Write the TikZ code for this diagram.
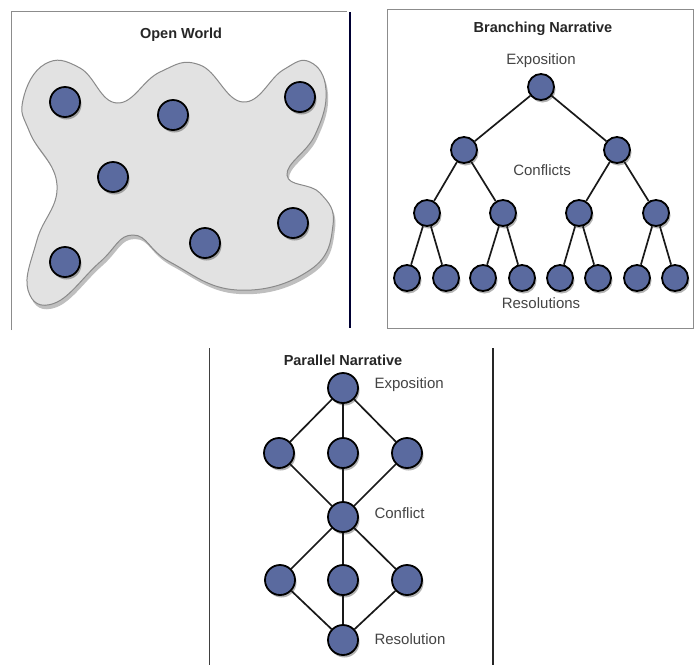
\documentclass[tikz,border=0pt]{standalone}
\usepackage{fontspec}
\setmainfont{Liberation Sans}
\usetikzlibrary{shadows}
\definecolor{dotblue}{HTML}{5A6A9F}
\definecolor{blobfill}{HTML}{E2E2E2}
\definecolor{blobline}{HTML}{8A8A8A}
\definecolor{labelgray}{HTML}{444444}
\definecolor{framegray}{HTML}{8C8C8C}
\begin{document}
\begin{tikzpicture}[x=1pt,y=-1pt,
  dotbase/.style={circle, draw=black, line width=1.8pt, fill=dotblue, inner sep=0pt,
    drop shadow={shadow xshift=1.5pt, shadow yshift=-2.5pt, opacity=0.3, fill=black}},
  owdot/.style={dotbase, minimum size=30pt},
  brdot/.style={dotbase, minimum size=26pt},
  padot/.style={dotbase, minimum size=30pt},
  link/.style={line width=1.7pt, draw=black!90},
  paneltitle/.style={font=\bfseries\fontsize{14.5}{16}\selectfont, text=black!85},
  lbl/.style={font=\fontsize{15}{17}\selectfont, text=labelgray}
]
\useasboundingbox (0,0) rectangle (695,665);
\fill[white] (0,0) rectangle (695,665);

% ---------- Panel 1: Open World ----------
\draw[framegray, line width=0.8pt] (11,330) -- (11,11) -- (347,11);
\draw[line width=2.6pt, color=black!80!blue] (350,12) -- (350,328);
\node[paneltitle] (owtitle) at (181,35) {Open World};
\path[fill=blobfill, draw=blobline, line width=1pt,
  drop shadow={shadow xshift=2pt, shadow yshift=-4pt, opacity=0.25, fill=black}]
  plot[smooth cycle, tension=0.75] coordinates {
   (23,100) (45,64) (80,68) (117,103) (160,72) (200,65) (243,102)
   (283,70) (310,62) (326,90) (315,135) (287,175) (320,193) (333,225)
   (310,270) (237,290) (170,262) (133,235) (100,262) (55,303) (28,290)
   (37,240) (57,185) (30,133)};
\node[owdot] (ow1) at (65,102) {};
\node[owdot] (ow2) at (173,115) {};
\node[owdot] (ow3) at (300,97) {};
\node[owdot] (ow4) at (113,177) {};
\node[owdot] (ow5) at (293,223) {};
\node[owdot] (ow6) at (205,243) {};
\node[owdot] (ow7) at (65,262) {};

% ---------- Panel 2: Branching Narrative ----------
\draw[framegray, line width=0.8pt] (387,9) rectangle (693,328);
\node[paneltitle] (brtitle) at (543,29) {Branching Narrative};
\node[lbl] (brexp) at (541,61) {Exposition};
\node[lbl] (brcon) at (542,170) {Conflicts};
\node[lbl] (brres) at (541,303) {Resolutions};

\node[brdot] (b0) at (541,87) {};
\node[brdot] (b1) at (464,150) {};
\node[brdot] (b2) at (617,150) {};
\node[brdot] (b11) at (427,213) {};
\node[brdot] (b12) at (503,213) {};
\node[brdot] (b21) at (579,213) {};
\node[brdot] (b22) at (656,213) {};
\node[brdot] (r1) at (407,278) {};
\node[brdot] (r2) at (446,278) {};
\node[brdot] (r3) at (483,278) {};
\node[brdot] (r4) at (522,278) {};
\node[brdot] (r5) at (560,278) {};
\node[brdot] (r6) at (598,278) {};
\node[brdot] (r7) at (637,278) {};
\node[brdot] (r8) at (675,278) {};
\draw[link] (b0) -- (b1);
\draw[link] (b0) -- (b2);
\draw[link] (b1) -- (b11);
\draw[link] (b1) -- (b12);
\draw[link] (b2) -- (b21);
\draw[link] (b2) -- (b22);
\draw[link] (b11) -- (r1);
\draw[link] (b11) -- (r2);
\draw[link] (b12) -- (r3);
\draw[link] (b12) -- (r4);
\draw[link] (b21) -- (r5);
\draw[link] (b21) -- (r6);
\draw[link] (b22) -- (r7);
\draw[link] (b22) -- (r8);

% ---------- Panel 3: Parallel Narrative ----------
\draw[black!75, line width=1pt] (209,348) -- (209,665);
\draw[black!85, line width=1.6pt] (493,348) -- (493,665);
\node[paneltitle] (patitle) at (343,360) {Parallel Narrative};
\node[padot] (p0) at (343,388) {};
\node[padot] (p1) at (279,453) {};
\node[padot] (p2) at (343,453) {};
\node[padot] (p3) at (407,453) {};
\node[padot] (pc) at (343,517) {};
\node[padot] (p4) at (280,580) {};
\node[padot] (p5) at (343,580) {};
\node[padot] (p6) at (407,580) {};
\node[padot] (pr) at (343,640) {};
\node[lbl, anchor=west] (paexp) at (371,385) {Exposition};
\node[lbl, anchor=west] (pacon) at (371,513) {Conflict};
\node[lbl, anchor=west] (pares) at (371,639) {Resolution};
\draw[link] (p0) -- (p1);
\draw[link] (p0) -- (p2);
\draw[link] (p0) -- (p3);
\draw[link] (p1) -- (pc);
\draw[link] (p2) -- (pc);
\draw[link] (p3) -- (pc);
\draw[link] (pc) -- (p4);
\draw[link] (pc) -- (p5);
\draw[link] (pc) -- (p6);
\draw[link] (p4) -- (pr);
\draw[link] (p5) -- (pr);
\draw[link] (p6) -- (pr);
\end{tikzpicture}
\end{document}
